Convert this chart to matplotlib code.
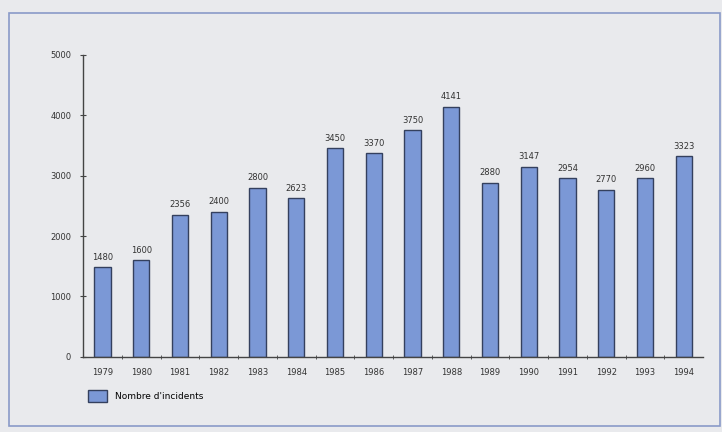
import matplotlib.pyplot as plt
from matplotlib.patches import Rectangle

years = ['1979', '1980', '1981', '1982', '1983', '1984', '1985', '1986',
         '1987', '1988', '1989', '1990', '1991', '1992', '1993', '1994']
incidents = [1480, 1600, 2356, 2400, 2800, 2623, 3450, 3370,
             3750, 4141, 2880, 3147, 2954, 2770, 2960, 3323]

fig = plt.figure(figsize=(7.22, 4.32), dpi=100)
fig.patch.set_facecolor('#e9eaed')
# outer frame of the scanned page
fig.patches.append(Rectangle((0.012, 0.015), 0.985, 0.955, transform=fig.transFigure,
                             fill=False, edgecolor='#8a9ac8', linewidth=1.2))

ax = fig.add_axes([0.115, 0.174, 0.859, 0.699])
ax.set_facecolor('#e9eaed')

x = range(len(years))
bars = ax.bar(x, incidents, width=0.42, color='#7b98d6', edgecolor='#34405e',
              linewidth=1.0, label="Nombre d'incidents")
for xi, v in zip(x, incidents):
    ax.text(xi, v + 90, str(v), ha='center', va='bottom', fontsize=6, color='#333333')

ax.set_xlim(-0.5, len(years) - 0.5)
ax.set_ylim(0, 5000)
ax.set_yticks([0, 1000, 2000, 3000, 4000, 5000])
ax.set_xticks(list(x))
ax.set_xticklabels(years, fontsize=6, color='#333333')
ax.tick_params(axis='x', length=0, pad=8)
ax.set_xticks([i + 0.5 for i in x][:-1], minor=True)
ax.tick_params(axis='x', which='minor', length=3, direction='inout', color='#444444')
ax.tick_params(axis='y', labelsize=6, labelcolor='#333333', length=5,
               direction='inout', color='#444444', pad=6)

for s in ['top', 'right']:
    ax.spines[s].set_visible(False)
for s in ['left', 'bottom']:
    ax.spines[s].set_color('#444444')
    ax.spines[s].set_linewidth(1.0)

fig.legend(loc='upper left', bbox_to_anchor=(0.11, 0.115), frameon=False,
           fontsize=6.5, handlelength=2.2, handleheight=1.6)

plt.savefig('out.png', dpi=100, facecolor=fig.get_facecolor())
